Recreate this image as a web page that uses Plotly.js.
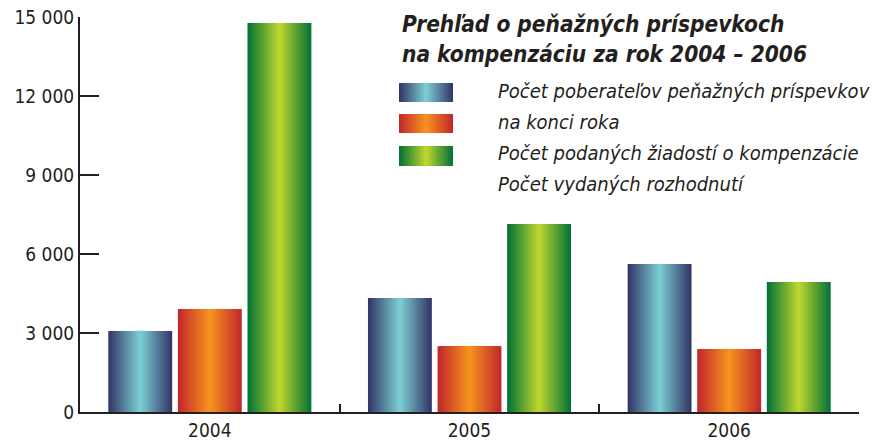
<!DOCTYPE html>
<html>
<head>
<meta charset="utf-8">
<script src="https://cdn.plot.ly/plotly-3.0.1.min.js"></script>
<style>
html,body{margin:0;padding:0;background:#fff;}
#chart{width:879px;height:448px;}
</style>
</head>
<body>
<div id="chart"></div>
<script>
// ---- data ----
const categories = ['2004', '2005', '2006'];
const seriesNames = [
  'Počet poberateľov peňažných príspevkov',
  'na konci roka',
  'Počet podaných žiadostí o kompenzácie'
];
const recipients = [3080, 4330, 5620];
const endOfYear = [3910, 2500, 2390];
const applications = [14770, 7140, 4940];
const yTicks = [0, 3000, 6000, 9000, 12000, 15000];
const yTickLabels = ['0', '3 000', '6 000', '9 000', '12 000', '15 000'];
const titleLines = ['Prehľad o peňažných príspevkoch', 'na kompenzáciu za rok 2004 – 2006'];
const legendLines = [
  'Počet poberateľov peňažných príspevkov',
  'na konci roka',
  'Počet podaných žiadostí o kompenzácie',
  'Počet vydaných rozhodnutí'
];

// ---- styling ----
const FONT = '"DejaVu Sans Condensed", "DejaVu Sans", sans-serif';
const INK = '#231f20';
const gradients = [
  {edge: [49, 52, 102], center: [126, 208, 212]},
  {edge: [193, 39, 45], center: [247, 148, 29]},
  {edge: [0, 114, 54], center: [193, 215, 47]}
];
const seriesValues = [recipients, endOfYear, applications];
const centers = [-0.268, 0, 0.268];
const barWidth = 0.246;
const N = 22;

function colorAt(g, t) {
  const c = g.center.map((v, i) => Math.round(v + (g.edge[i] - v) * t));
  return 'rgb(' + c.join(',') + ')';
}

const traces = [];
seriesValues.forEach((vals, s) => {
  for (let k = 0; k < N; k++) {
    const w = barWidth * (1 - k / N);
    const t = 1 - (k + 0.5) / N;
    traces.push({
      type: 'bar',
      x: categories,
      y: vals,
      width: w,
      offset: centers[s] - w / 2,
      marker: {color: colorAt(gradients[s], t), line: {width: 0}},
      name: seriesNames[s],
      showlegend: false,
      hoverinfo: 'skip'
    });
  }
});

// legend swatches (shapes) and texts
const shapes = [];
const annotations = [];
const X0 = 80, X1 = 859, Y0 = 412, Y1 = 17;
const px = x => (x - X0) / (X1 - X0);
const py = y => (Y0 - y) / (Y0 - Y1);
const swatchRows = [[83, 102], [114, 133], [146, 166]];
const swL = 399, swR = 453;
swatchRows.forEach((r, s) => {
  const cx = (swL + swR) / 2, hw = (swR - swL) / 2;
  for (let k = 0; k < N; k++) {
    const f = 1 - k / N;
    const t = 1 - (k + 0.5) / N;
    shapes.push({
      type: 'rect', xref: 'paper', yref: 'paper',
      x0: px(cx - hw * f), x1: px(cx + hw * f),
      y0: py(r[1]), y1: py(r[0]),
      fillcolor: colorAt(gradients[s], t), line: {width: 0}, layer: 'above'
    });
  }
});
const titleY = [24, 54];
titleLines.forEach((txt, i) => {
  annotations.push({
    text: '<b><i>' + txt + '</i></b>', xref: 'paper', yref: 'paper',
    x: px(400), y: py(titleY[i]), xanchor: 'left', yanchor: 'middle',
    showarrow: false, font: {family: FONT, size: 22.5, color: INK}
  });
});
const legY = [91, 122, 153, 184];
legendLines.forEach((txt, i) => {
  annotations.push({
    text: '<i>' + txt + '</i>', xref: 'paper', yref: 'paper',
    x: px(496), y: py(legY[i]), xanchor: 'left', yanchor: 'middle',
    showarrow: false, font: {family: FONT, size: 20, color: INK}
  });
});

const layout = {
  width: 879, height: 448,
  margin: {l: 80, r: 20, t: 17, b: 36},
  paper_bgcolor: '#fff', plot_bgcolor: '#fff',
  barmode: 'overlay',
  showlegend: false,
  font: {family: FONT, color: INK},
  xaxis: {
    type: 'category', range: [-0.5, 2.5],
    showline: true, linecolor: INK, linewidth: 2,
    ticks: 'inside', tickson: 'boundaries', ticklen: 8, tickwidth: 2, tickcolor: INK,
    showgrid: false, zeroline: false,
    tickfont: {family: FONT, size: 19, color: INK}
  },
  yaxis: {
    range: [0, 15000], tickmode: 'array', tickvals: yTicks, ticktext: yTickLabels,
    showline: true, linecolor: INK, linewidth: 2,
    ticks: 'inside', ticklen: 19, tickwidth: 2, tickcolor: INK,
    showgrid: false, zeroline: false,
    tickfont: {family: FONT, size: 19, color: INK}
  },
  shapes: shapes,
  annotations: annotations
};

Plotly.newPlot('chart', traces, layout, {displayModeBar: false, staticPlot: true});
</script>
</body>
</html>
